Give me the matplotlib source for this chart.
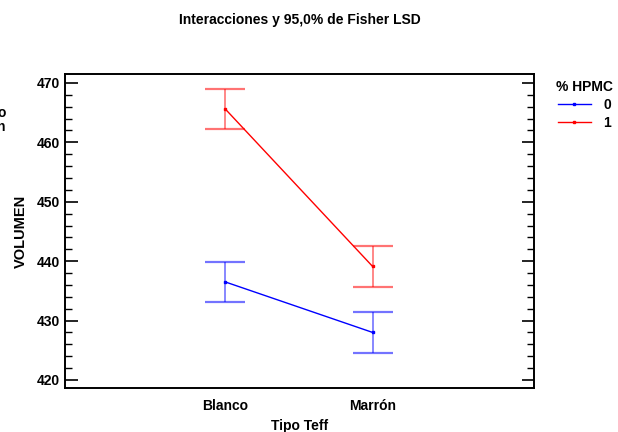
import matplotlib
matplotlib.use("Agg")
import matplotlib.pyplot as plt

# Mean VOLUMEN by Tipo Teff for each % HPMC level, with 95% Fisher LSD half-widths
tipos = ["Blanco", "Marrón"]
hpmc_levels = ["0", "1"]
medias_0 = [436.5, 428.0]
medias_1 = [465.6, 439.1]
lsd_0 = [3.4, 3.4]
lsd_1 = [3.4, 3.4]

colores = {"0": "#0000ff", "1": "#ff0000"}

plt.rcParams["font.family"] = ["Liberation Sans Narrow", "Liberation Sans", "DejaVu Sans"]
plt.rcParams["font.weight"] = "bold"

fig = plt.figure(figsize=(6.18, 4.32), dpi=100)
ax = fig.add_axes([65 / 618, 1 - 388 / 432, (534 - 65) / 618, (388 - 74) / 432])

x = list(range(len(tipos)))
for nivel, medias, lsd in [("0", medias_0, lsd_0), ("1", medias_1, lsd_1)]:
    c = colores[nivel]
    ax.errorbar(x, medias, yerr=lsd, fmt="none", ecolor=c, alpha=0.55,
                elinewidth=1.2, capsize=14.5, capthick=1.6)
    ax.plot(x, medias, color=c, lw=1.0, marker="s", ms=2.0, label=nivel)

ax.set_xlim(-1.088, 2.095)
ax.set_ylim(418.65, 471.5)
ax.set_xticks(x)
ax.set_xticklabels(tipos, fontsize=10, fontweight="bold")
ax.set_yticks([420, 430, 440, 450, 460, 470])
ax.set_yticks(range(420, 472, 2), minor=True)
ax.tick_params(axis="y", which="both", direction="in", right=True, labelsize=10)
ax.tick_params(axis="y", which="major", length=9, width=1.2)
ax.tick_params(axis="y", which="minor", length=5, width=1.0)
ax.tick_params(axis="x", length=0, pad=8)
for s in ax.spines.values():
    s.set_linewidth(1.4)

ax.set_xlabel("Tipo Teff", fontsize=10, fontweight="bold", labelpad=4)
fig.text(21 / 618, 1 - 231 / 432, "VOLUMEN", rotation=90, ha="center", va="center",
         fontsize=10.5, fontweight="bold", family=["Liberation Sans", "DejaVu Sans"])

fig.suptitle("Interacciones y 95,0% de Fisher LSD", x=300 / 618, y=1 - 20 / 432,
             va="center", fontsize=10, fontweight="bold")

leg = ax.legend(title="% HPMC", loc="upper left", bbox_to_anchor=(1.035, 1.0),
                frameon=False, fontsize=10, title_fontproperties={"weight": "bold", "size": 10},
                handlelength=2.4, handletextpad=0.9, borderaxespad=0.0, labelspacing=0.3)
for t in leg.get_texts():
    t.set_fontweight("bold")

# clipped text on the left margin
fig.text(6 / 618, 1 - 120 / 432, "o\nn", ha="right", va="center", fontsize=10,
         fontweight="bold", linespacing=1.0)

fig.savefig("out.png", dpi=100)
